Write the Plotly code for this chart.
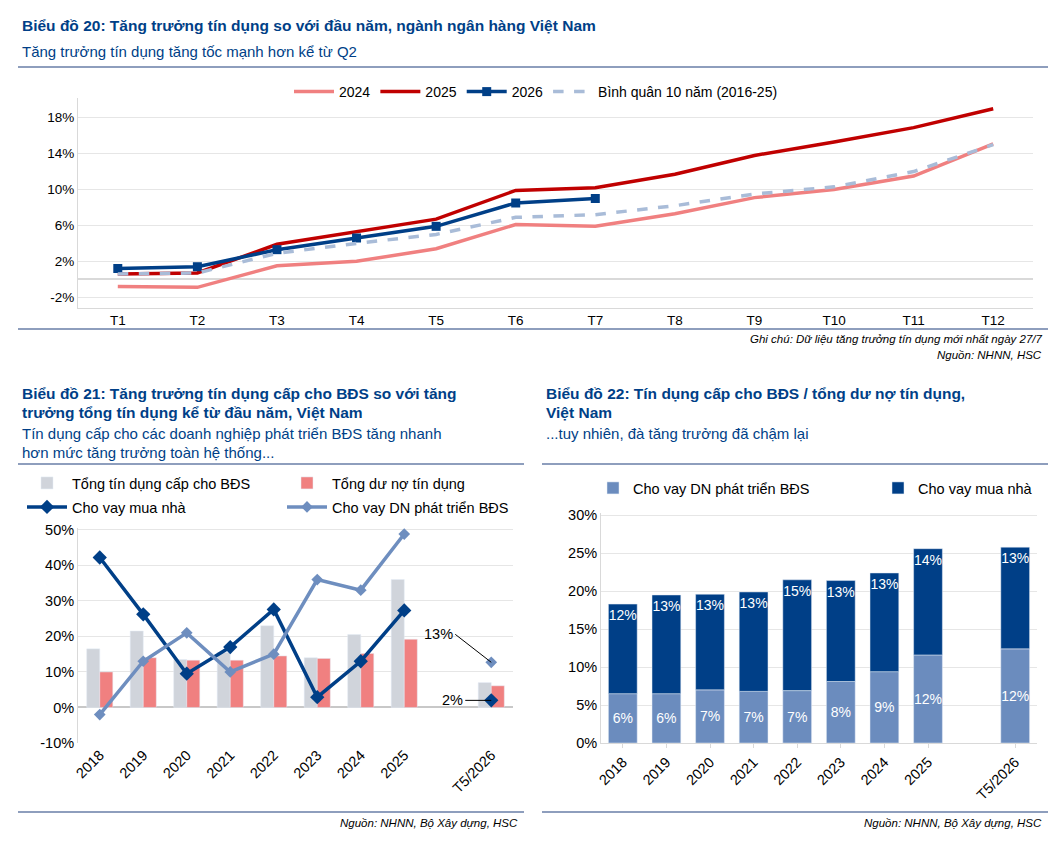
import plotly.graph_objects as go

W, H = 1056, 842
FONT = "Liberation Sans"
NAVY = "#003F87"
BLUE_T = "#003F87"

# ---- Chart 20 data
months = ["T1","T2","T3","T4","T5","T6","T7","T8","T9","T10","T11","T12"]
s2024 = [-0.8,-0.9,1.5,2.0,3.4,6.1,5.9,7.3,9.1,10.0,11.5,15.1]
s2025 = [0.6,0.7,3.9,5.3,6.7,9.9,10.2,11.7,13.8,15.3,16.9,19.0]
s2026 = [1.2,1.4,3.3,4.6,5.9,8.5,9.0]
savg  = [0.6,0.7,2.9,4.0,5.0,6.9,7.2,8.2,9.5,10.3,12.0,15.0]

# ---- Chart 21 data
years = ["2018","2019","2020","2021","2022","2023","2024","2025","T5/2026"]
xpos = [0,1,2,3,4,5,6,7,9]
bds_total = [16.5,21.5,13.5,15.5,23.0,14.0,20.5,36.0,7.0]
credit_total = [10.0,14.0,13.3,13.3,14.5,13.8,15.2,19.2,6.1]
mua_nha = [42.2,26.2,9.5,17.0,27.6,2.9,13.0,27.3,2.0]
dn_bds = [-2.0,13.0,21.0,10.0,15.0,36.0,33.0,48.8,12.7]

# ---- Chart 22 data
share_dn = [6.5,6.5,7.0,6.8,6.9,8.1,9.4,11.6,12.4]
share_total = [18.3,19.5,19.6,19.9,21.5,21.4,22.4,25.6,25.8]
share_dn_lbl = ["6%","6%","7%","7%","7%","8%","9%","12%","12%"]
share_mn_lbl = ["12%","13%","13%","13%","15%","13%","13%","14%","13%"]
share_mn = [round(t - d, 2) for t, d in zip(share_total, share_dn)]

def px(x): return x / W
def py(y): return 1 - y / H

fig = go.Figure()

# Chart 20
fig.add_trace(go.Scatter(x=months, y=s2024, name="2024", mode="lines",
    line=dict(color="#F08080", width=3.5), xaxis="x", yaxis="y", legend="legend"))
fig.add_trace(go.Scatter(x=months, y=s2025, name="2025", mode="lines",
    line=dict(color="#C00000", width=3.5), xaxis="x", yaxis="y", legend="legend"))
fig.add_trace(go.Scatter(x=months[:len(s2026)], y=s2026, name="2026", mode="lines+markers",
    line=dict(color=NAVY, width=3.5), marker=dict(symbol="square", size=9, color=NAVY),
    xaxis="x", yaxis="y", legend="legend"))
fig.add_trace(go.Scatter(x=months, y=savg, name="Bình quân 10 năm (2016-25)", mode="lines",
    line=dict(color="#A9BCD8", width=3.5, dash="dash"), xaxis="x", yaxis="y", legend="legend"))

# Chart 21
xa = xpos[:8]
fig.add_trace(go.Bar(x=xpos, y=bds_total, name="Tổng tín dụng cấp cho BĐS",
    marker_color="#D0D4DB", width=0.3, offset=-0.3, xaxis="x2", yaxis="y2", legend="legend2"))
fig.add_trace(go.Bar(x=xpos, y=credit_total, name="Tổng dư nợ tín dụng",
    marker_color="#F08080", width=0.3, offset=0.0, xaxis="x2", yaxis="y2", legend="legend2"))
fig.add_trace(go.Scatter(x=xa, y=mua_nha[:8], name="Cho vay mua nhà", mode="lines+markers",
    line=dict(color=NAVY, width=3.5), marker=dict(symbol="diamond", size=11, color=NAVY),
    xaxis="x2", yaxis="y2", legend="legend4"))
fig.add_trace(go.Scatter(x=xa, y=dn_bds[:8], name="Cho vay DN phát triển BĐS", mode="lines+markers",
    line=dict(color="#6E8EBF", width=3.5), marker=dict(symbol="diamond", size=9, color="#6E8EBF"),
    xaxis="x2", yaxis="y2", legend="legend4"))
fig.add_trace(go.Scatter(x=[xpos[8]], y=[mua_nha[8]], mode="markers", showlegend=False,
    marker=dict(symbol="diamond", size=11, color=NAVY), xaxis="x2", yaxis="y2"))
fig.add_trace(go.Scatter(x=[xpos[8]], y=[dn_bds[8]], mode="markers", showlegend=False,
    marker=dict(symbol="diamond", size=9, color="#6E8EBF"), xaxis="x2", yaxis="y2"))

# Chart 22 (stacked via base)
fig.add_trace(go.Bar(x=xpos, y=share_dn, name="Cho vay DN phát triển BĐS", marker_color="#6B8CBE",
    width=0.66, text=share_dn_lbl, textposition="inside", insidetextanchor="middle", textangle=0,
    textfont=dict(color="white", size=14), xaxis="x3", yaxis="y3", legend="legend3"))
fig.add_trace(go.Bar(x=xpos, y=share_mn, base=share_dn, name="Cho vay mua nhà", marker_color="#003F87",
    width=0.66, text=share_mn_lbl, textposition="inside", insidetextanchor="end", textangle=0,
    textfont=dict(color="white", size=14), xaxis="x3", yaxis="y3", legend="legend3"))

axfont = dict(family=FONT, size=13.5, color="black")
axfont2 = dict(family=FONT, size=14.5, color="black")
grid = "#E6E6E6"

layout = dict(
    width=W, height=H, margin=dict(l=0, r=0, t=0, b=0, autoexpand=False),
    paper_bgcolor="white", plot_bgcolor="white", barmode="overlay",
    uniformtext=dict(minsize=14, mode="show"),
    font=dict(family=FONT, color="black"), showlegend=True,
    xaxis=dict(domain=[px(70), px(1025)], range=[-0.5, 11.5], anchor="y",
               tickfont=axfont, showline=True, linecolor="#D9D9D9", ticks="", ),
    yaxis=dict(domain=[py(300), py(90)], range=[-3.2, 20.2], anchor="x",
               tickvals=[-2,2,6,10,14,18], ticktext=["-2%","2%","6%","10%","14%","18%"],
               tickfont=axfont, gridcolor=grid, zeroline=True, zerolinecolor="#D9D9D9",
               showline=True, linecolor="#D9D9D9"),
    xaxis2=dict(domain=[px(70), px(505)], range=[-0.5, 9.5], anchor="y2",
                tickvals=xpos, ticktext=years, tickangle=-45, tickfont=axfont2,
                showline=False, ticks=""),
    yaxis2=dict(domain=[py(735), py(520)], range=[-10, 50.5], anchor="x2",
                tickvals=[-10,0,10,20,30,40,50], ticktext=["-10%","0%","10%","20%","30%","40%","50%"],
                tickfont=axfont2, gridcolor=grid, zeroline=True, zerolinecolor="#C8C8C8",
                showline=True, linecolor="#D9D9D9"),
    xaxis3=dict(domain=[px(593), px(1029)], range=[-0.5, 9.5], anchor="y3",
                tickvals=xpos, ticktext=years, tickangle=-45, tickfont=axfont2,
                showline=True, linecolor="#D9D9D9", ticks="outside", ticklen=4, tickcolor="#D9D9D9"),
    yaxis3=dict(domain=[py(735), py(505)], range=[0, 30.3], anchor="x3",
                tickvals=[0,5,10,15,20,25,30], ticktext=["0%","5%","10%","15%","20%","25%","30%"],
                tickfont=axfont2, gridcolor=grid, showline=True, linecolor="#D9D9D9"),
    legend=dict(orientation="h", x=0.5, y=py(84), xanchor="center", yanchor="middle",
                font=dict(family=FONT, size=14), bgcolor="rgba(0,0,0,0)", itemwidth=40),
    legend2=dict(orientation="h", x=px(14), y=py(475), xanchor="left", yanchor="middle",
                 font=dict(family=FONT, size=14.5), entrywidth=205,
                 bgcolor="rgba(0,0,0,0)", itemwidth=40),
    legend4=dict(orientation="h", x=px(14), y=py(499), xanchor="left", yanchor="middle",
                 font=dict(family=FONT, size=14.5), entrywidth=205,
                 bgcolor="rgba(0,0,0,0)", itemwidth=40),
    legend3=dict(orientation="h", x=px(585), y=py(480), xanchor="left", yanchor="middle",
                 font=dict(family=FONT, size=14.5), entrywidth=240, bgcolor="rgba(0,0,0,0)",
                 itemwidth=30),
)

ann = []
def txt(x, y, s, size=13, bold=False, color="black", italic=False, anchor="left"):
    if bold: s = f"<b>{s}</b>"
    if italic: s = f"<i>{s}</i>"
    ann.append(dict(x=px(x), y=py(y), xref="paper", yref="paper", text=s, showarrow=False,
                    xanchor=anchor, yanchor="middle", align=anchor,
                    font=dict(family=FONT, size=size, color=color)))

txt(12, 18, "Biểu đồ 20: Tăng trưởng tín dụng so với đầu năm, ngành ngân hàng Việt Nam", 15.5, True, BLUE_T)
txt(12, 44, "Tăng trưởng tín dụng tăng tốc mạnh hơn kể từ Q2", 15, False, BLUE_T)
txt(1036, 331, "Ghi chú: Dữ liệu tăng trưởng tín dụng mới nhất ngày 27/7", 11.5, italic=True, anchor="right")
txt(1036, 347, "Nguồn: NHNN, HSC", 11.5, italic=True, anchor="right")
txt(12, 385, "Biểu đồ 21: Tăng trưởng tín dụng cấp cho BĐS so với tăng", 15.5, True, BLUE_T)
txt(12, 404, "trưởng tổng tín dụng kể từ đầu năm, Việt Nam", 15.5, True, BLUE_T)
txt(12, 425, "Tín dụng cấp cho các doanh nghiệp phát triển BĐS tăng nhanh", 15, False, BLUE_T)
txt(12, 444, "hơn mức tăng trưởng toàn hệ thống...", 15, False, BLUE_T)
txt(536, 385, "Biểu đồ 22: Tín dụng cấp cho BĐS / tổng dư nợ tín dụng,", 15.5, True, BLUE_T)
txt(536, 404, "Việt Nam", 15.5, True, BLUE_T)
txt(536, 425, "...tuy nhiên, đà tăng trưởng đã chậm lại", 15, False, BLUE_T)
txt(512, 815, "Nguồn: NHNN, Bộ Xây dựng, HSC", 11.5, italic=True, anchor="right")
txt(1036, 815, "Nguồn: NHNN, Bộ Xây dựng, HSC", 11.5, italic=True, anchor="right")

# value callouts in chart 21
ann.append(dict(x=xpos[8], y=dn_bds[8], xref="x2", yref="y2", text="13%", showarrow=True,
                ax=-36, ay=-28, arrowhead=0, arrowwidth=1, arrowcolor="black",
                font=dict(family=FONT, size=14.5), xanchor="right"))
ann.append(dict(x=xpos[8], y=mua_nha[8], xref="x2", yref="y2", text="2%", showarrow=True,
                ax=-26, ay=0, arrowhead=0, arrowwidth=1, arrowcolor="black",
                font=dict(family=FONT, size=14.5), xanchor="right"))
layout["annotations"] = ann

shapes = []
def hline(x0, x1, y, w=1.2):
    shapes.append(dict(type="line", xref="paper", yref="paper", x0=px(x0), x1=px(x1),
                       y0=py(y), y1=py(y), line=dict(color="#1F3E7C", width=w)))
hline(10, 1040, 59)
hline(10, 1040, 321)
hline(10, 516, 456)
hline(534, 1040, 456)
hline(10, 516, 804)
hline(534, 1040, 804)
layout["shapes"] = shapes

fig.update_layout(**layout)
fig.write_html("out.html")
